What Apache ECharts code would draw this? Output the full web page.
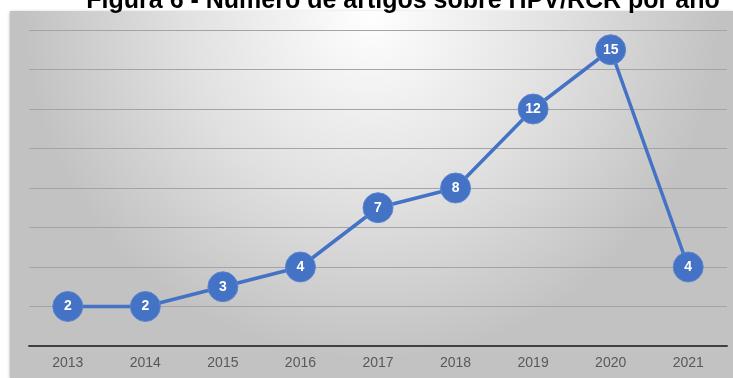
<!DOCTYPE html>
<html>
<head>
<meta charset="utf-8">
<script src="https://cdn.jsdelivr.net/npm/echarts@6/dist/echarts.min.js"></script>
<style>html,body{margin:0;padding:0;background:#fff}#c{width:733px;height:378px}</style>
</head>
<body>
<div id="c"></div>
<script>
var titleText = 'Figura 6 - Número de artigos sobre HPV/RCR por ano';
var years = ['2013','2014','2015','2016','2017','2018','2019','2020','2021'];
var articles = [2, 2, 3, 4, 7, 8, 12, 15, 4];

var chart = echarts.init(document.getElementById('c'));
chart.setOption({
  animation: false,
  graphic: [
    {
      type: 'rect', z: -10, silent: true,
      shape: { x: 10, y: 11, width: 723, height: 367 },
      style: {
        fill: {
          type: 'radial', x: 0.5, y: 0.0, r: 0.95,
          colorStops: [
            { offset: 0, color: '#ffffff' },
            { offset: 0.55, color: '#e0e0e0' },
            { offset: 1, color: '#c2c2c2' }
          ]
        },
        shadowBlur: 3, shadowColor: 'rgba(0,0,0,0.35)', shadowOffsetY: 1
      }
    },
    {
      type: 'text', z: 10, silent: true,
      x: 403, y: 14,
      style: {
        text: titleText, textAlign: 'center', textVerticalAlign: 'bottom',
        fontFamily: 'Liberation Sans', fontWeight: 'bold', fontSize: 25, fill: '#000'
      }
    }
  ],
  grid: { left: 29, right: 6, top: 30, bottom: 32 },
  xAxis: {
    type: 'category', data: years, boundaryGap: true,
    axisLine: { lineStyle: { color: '#404040', width: 2 } },
    axisTick: { show: false },
    axisLabel: { color: '#595959', fontSize: 14, fontFamily: 'Liberation Sans', margin: 10 }
  },
  yAxis: {
    type: 'value', min: 0, max: 16, interval: 2,
    axisLabel: { show: false }, axisLine: { show: false }, axisTick: { show: false },
    splitLine: { lineStyle: { color: '#a4a4a4', width: 1 } }
  },
  series: [{
    type: 'line', data: articles,
    lineStyle: { color: '#4472C4', width: 3.5 },
    symbol: 'circle', symbolSize: 30,
    itemStyle: { color: '#4472C4', borderColor: '#5b86d0', borderWidth: 1 },
    label: {
      show: true, position: 'inside', color: '#ffffff',
      fontWeight: 'bold', fontSize: 14, fontFamily: 'Liberation Sans'
    }
  }]
});
</script>
</body>
</html>
